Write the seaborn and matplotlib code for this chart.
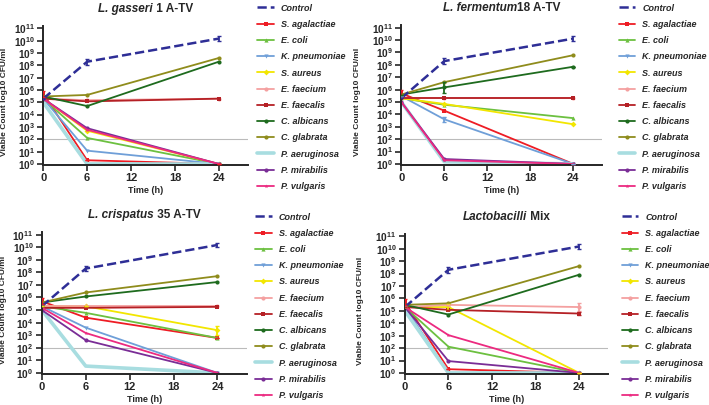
import numpy as np
import pandas as pd
import seaborn as sns
import matplotlib.pyplot as plt
from matplotlib.offsetbox import TextArea, HPacker, AnchoredOffsetbox

sns.set_style('ticks')
plt.rcParams['font.family'] = ['Liberation Sans', 'DejaVu Sans']
plt.rcParams['mathtext.fontset'] = 'custom'
plt.rcParams['mathtext.bf'] = 'Liberation Sans:bold'
plt.rcParams['mathtext.rm'] = 'Liberation Sans'

# dados
tempos = [0, 6, 24]
cepas = ['Control', 'S. agalactiae', 'E. coli', 'K. pneumoniae', 'S. aureus',
         'E. faecium', 'E. faecalis', 'C. albicans', 'C. glabrata',
         'P. aeruginosa', 'P. mirabilis', 'P. vulgaris']

gasseri = [[2e5, 2e8, 1.5e10], [5e5, 2, 1], [2e5, 1.3e2, 1], [2e5, 12, 1],
           [2e5, 5e2, 1], [2e5, 1.5e5, 2e5], [2e5, 1.2e5, 2e5], [3e5, 5e4, 2e8],
           [3e5, 4e5, 4e8], [1e5, 1, 1], [2e5, 8e2, 1], [2e5, 6e2, 1]]
fermentum = [[2e5, 2e8, 1.3e10], [5e5, 2e4, 1], [2e5, 6e4, 5e3], [3e5, 4e3, 1],
             [2e5, 7e4, 1.6e3], [2e5, 2e5, 2e5], [2e5, 2e5, 2e5], [4e5, 1.5e6, 7e7],
             [4e5, 4e6, 6e8], [1e5, 1.5, 1], [1e5, 2.5, 1], [1e5, 2, 1]]
crispatus = [[2e5, 2e8, 1.5e10], [5e5, 2.5e4, 6e2], [2e5, 6e4, 6e2], [2e5, 4e3, 1],
             [2e5, 2e5, 2.5e3], [2e5, 2e5, 2e5], [1.5e5, 1.5e5, 1.8e5], [4e5, 1.2e6, 1.7e7],
             [4e5, 2.5e6, 5e7], [1e5, 3.5, 1], [1e5, 4e2, 1], [1.5e5, 1.5e3, 1]]
mix = [[2e5, 2e8, 1.5e10], [5e5, 2, 1], [2e5, 1.3e2, 1], [2e5, 1, 1],
       [2e5, 2e5, 1], [2e5, 3e5, 2e5], [2e5, 1.2e5, 6e4], [3e5, 5e4, 8e7],
       [3e5, 4e5, 4e8], [1e5, 1, 1], [2e5, 9, 1], [2e5, 1.1e3, 1]]

# erro como fator multiplicativo (média * fator / média / fator)
erro_gasseri = {'Control': [1, 1.7, 1.5], 'S. agalactiae': [1.8, 1, 1]}
erro_fermentum = {'Control': [1, 1.7, 1.5], 'C. albicans': [1, 3, 1],
                  'K. pneumoniae': [1, 1.6, 1], 'S. agalactiae': [1.8, 1, 1]}
erro_crispatus = {'Control': [1, 1.7, 1.5], 'S. aureus': [1, 1, 2.2],
                  'S. agalactiae': [1.8, 1, 1]}
erro_mix = {'Control': [1, 1.7, 1.5], 'E. faecium': [1, 1, 2.2], 'S. aureus': [1, 1.8, 1],
            'E. faecalis': [1, 1, 1.4], 'S. agalactiae': [1.8, 1, 1]}

paineis = [('L. gasseri', ' 1 A-TV', gasseri, erro_gasseri),
           ('L. fermentum', '18 A-TV', fermentum, erro_fermentum),
           ('L. crispatus', ' 35 A-TV', crispatus, erro_crispatus),
           ('Lactobacilli', ' Mix', mix, erro_mix)]

cores = {'Control': '#2e2e96', 'S. agalactiae': '#ee1c24', 'E. coli': '#6cc040',
         'K. pneumoniae': '#6f9fd8', 'S. aureus': '#f2e600', 'E. faecium': '#f4a0a0',
         'E. faecalis': '#b52025', 'C. albicans': '#1e6b1e', 'C. glabrata': '#8f8c1c',
         'P. aeruginosa': '#a8dde0', 'P. mirabilis': '#7a2d96', 'P. vulgaris': '#ec2a80'}
marcadores = {'Control': '', 'S. agalactiae': 's', 'E. coli': '^', 'K. pneumoniae': 'v',
              'S. aureus': 'D', 'E. faecium': 'o', 'E. faecalis': 's', 'C. albicans': 'o',
              'C. glabrata': 'o', 'P. aeruginosa': '', 'P. mirabilis': 'o', 'P. vulgaris': '*'}
larguras = {c: 1.3 for c in cepas}
larguras['Control'] = 1.8
larguras['P. aeruginosa'] = 2.6

# posições [esq, baixo, larg, alt], legenda (x, y) e x do rótulo y
posicoes = [[0.061, 0.593, 0.289, 0.343], [0.566, 0.593, 0.283, 0.345],
            [0.059, 0.077, 0.289, 0.350], [0.571, 0.077, 0.287, 0.346]]
legendas = [(0.358, 1.0), (0.868, 1.0), (0.355, 0.484), (0.872, 0.484)]
rotulo_x = [-0.17, -0.2, -0.17, -0.2]

fig = plt.figure(figsize=(7.09, 4.05), dpi=100)

for (ital, resto, valores, erros), pos, leg, rx in zip(paineis, posicoes, legendas, rotulo_x):
    ax = fig.add_axes(pos)
    df = pd.DataFrame(valores, index=cepas, columns=tempos).reset_index()
    df = df.melt(id_vars='index', var_name='Tempo', value_name='CFU')
    df.columns = ['Cepa', 'Tempo', 'CFU']

    ax.axhline(1e2, color='#bbbbbb', lw=0.8, zorder=0)
    for cepa in cepas:
        sub = df[df['Cepa'] == cepa]
        sns.lineplot(data=sub, x='Tempo', y='CFU', ax=ax, color=cores[cepa],
                     lw=larguras[cepa], marker=marcadores[cepa] or None, markersize=3,
                     markeredgewidth=0, linestyle='--' if cepa == 'Control' else '-',
                     label=cepa, zorder=3 if cepa == 'Control' else 2)
        if cepa in erros:
            v = sub['CFU'].to_numpy()
            f = np.array(erros[cepa])
            ax.errorbar(sub['Tempo'], v, yerr=[v - v / f, v * f - v], fmt='none',
                        ecolor=cores[cepa], elinewidth=1.3, capsize=1.5, zorder=3)

    ax.set_yscale('log')
    ax.set_ylim(0.85, 1.6e11)
    ax.set_xlim(0, 28)
    ax.set_xticks([0, 6, 12, 18, 24])
    ax.set_xticklabels(['0', '6', '12', '18', '24'], fontweight='bold', fontsize=8)
    ax.set_yticks([10.0 ** k for k in range(12)])
    ax.set_yticklabels([r'$\mathbf{10^{%d}}$' % k for k in range(12)], fontsize=7.3)
    ax.minorticks_off()
    ax.tick_params(width=1.2, length=4, pad=2)
    for s in ['top', 'right']:
        ax.spines[s].set_visible(False)
    for s in ['left', 'bottom']:
        ax.spines[s].set_linewidth(1.4)
    ax.set_xlabel('Time (h)', fontsize=6.5, fontweight='bold', labelpad=2)
    ax.set_ylabel('Viable Count log10 CFU/ml', fontsize=6, fontweight='bold')
    ax.yaxis.set_label_coords(rx, 0.45)

    # titulo com parte em itálico
    t1 = TextArea(ital, textprops=dict(fontsize=8.5, fontweight='bold', fontstyle='italic'))
    t2 = TextArea(resto, textprops=dict(fontsize=8.5, fontweight='bold'))
    caixa = HPacker(children=[t1, t2], align='baseline', pad=0, sep=0)
    anc = AnchoredOffsetbox(loc='lower center', child=caixa, frameon=False,
                            bbox_to_anchor=(0.5, 1.04), bbox_transform=ax.transAxes,
                            borderpad=0)
    ax.add_artist(anc)

    ax.legend(loc='upper left', bbox_to_anchor=leg, bbox_transform=fig.transFigure,
              frameon=False, handlelength=1.8, handletextpad=0.8,
              labelspacing=0.8, borderaxespad=0,
              prop=dict(size=6.5, weight='bold', style='italic'))

fig.savefig('out.png', dpi=100)
